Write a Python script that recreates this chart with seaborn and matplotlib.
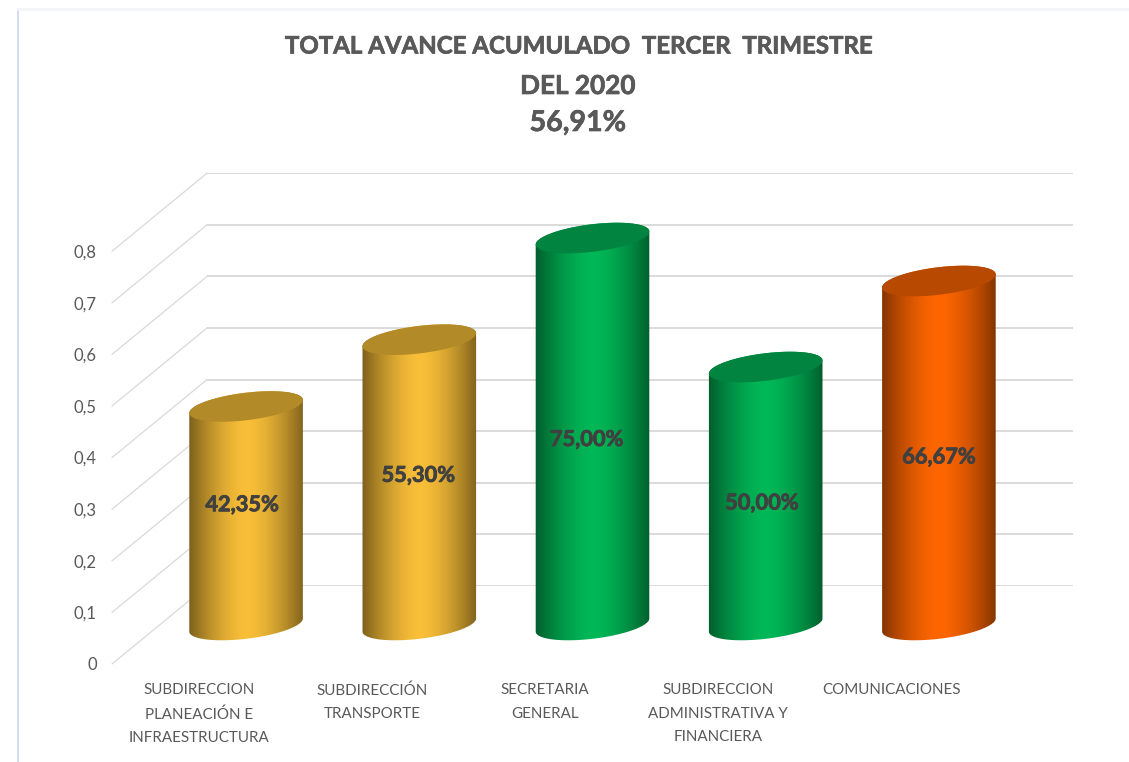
import numpy as np
import seaborn as sns
import matplotlib.pyplot as plt
import matplotlib.patheffects as pe
from matplotlib.colors import to_rgb
from matplotlib.lines import Line2D
from matplotlib.patches import Polygon

categories = ["SUBDIRECCION\nPLANEACIÓN E\nINFRAESTRUCTURA", "SUBDIRECCIÓN\nTRANSPORTE\n ",
              "SECRETARIA\nGENERAL\n ", "SUBDIRECCION\nADMINISTRATIVA Y\nFINANCIERA",
              "COMUNICACIONES\n \n "]
values = [0.4235, 0.553, 0.75, 0.50, 0.6667]
value_labels = ["42,35%", "55,30%", "75,00%", "50,00%", "66,67%"]
bar_colors = ["#F9BF38", "#F9BF38", "#00B857", "#00B857", "#FF6600"]
y_ticks = [0, 0.1, 0.2, 0.3, 0.4, 0.5, 0.6, 0.7, 0.8]
y_tick_labels = ["0", "0,1", "0,2", "0,3", "0,4", "0,5", "0,6", "0,7", "0,8"]
title_lines = ["TOTAL AVANCE ACUMULADO  TERCER  TRIMESTRE", "DEL 2020", "56,91%"]

# where the value labels sit relative to the middle of each bar, pixels
label_dx = [-4, -1, -6, -4, 0]
label_dy = [11, 7, -8, -7, -4]

W, H = 1129, 762
TEXT = "#595959"

sns.set_theme(style="white")
plt.rcParams["font.family"] = ["Lato", "DejaVu Sans"]

fig = plt.figure(figsize=(W / 100, H / 100), dpi=100)
thick = [pe.withStroke(linewidth=0.5, foreground=TEXT)]
thick_dark = [pe.withStroke(linewidth=0.6, foreground="#404040")]


def plane(left, base):
    # same size axes for back wall, bars and front labels, shifted for the fake 3D
    ax = fig.add_axes([left / W, (H - base) / H, 866 / W, 412.8 / H])
    ax.set_facecolor("none")
    ax.set_ylim(0, 0.8)
    sns.despine(ax=ax, left=True, bottom=True)
    return ax


ax_back = plane(207, 586)
ax_mid = plane(159.5, 625)
ax_front = plane(112, 664)

# back wall grid
ax_back.set_xlim(0, 1)
ax_back.set_xticks([])
ax_back.set_yticks(y_ticks)
ax_back.set_yticklabels([])
ax_back.tick_params(length=0)
ax_back.grid(axis="y", color="#DADADA", lw=1.4)
ax_back.set_axisbelow(True)

# side wall diagonals
for v in y_ticks:
    x0, y0 = ax_front.transData.transform((ax_front.get_xlim()[0], v))
    x1, y1 = ax_back.transData.transform((0, v))
    fig.add_artist(Line2D([x0, x1], [y0, y1], transform=None, color="#D9D9D9", lw=0.9, zorder=-1))

# bars
sns.barplot(x=categories, y=values, hue=categories, palette=bar_colors, width=0.664,
            legend=False, ax=ax_mid)
ax_mid.set_xticks([])
ax_mid.set_yticks([])
ax_mid.set_xlabel("")
ax_mid.set_ylabel("")

px_x = 866 / 5  # pixels for one category
px_y = 412.8 / 0.8  # pixels for one unit of value
shade = np.linspace(-1, 1, 256)
shade = 0.5 + 0.5 * (1 - np.abs(shade) ** 1.6)

# tilted ellipse of the cylinder ends, in pixels, starts at its rightmost point
t = np.linspace(0, 2 * np.pi, 240, endpoint=False)
tilt = np.radians(7)
ell_x = 57.2 * np.cos(t) * np.cos(tilt) - 13.7 * np.sin(t) * np.sin(tilt)
ell_y = 57.2 * np.cos(t) * np.sin(tilt) + 13.7 * np.sin(t) * np.cos(tilt)
first = np.argmax(ell_x)
ell_x, ell_y = np.roll(ell_x, -first), np.roll(ell_y, -first)
turn = np.argmin(ell_x)

bars = sorted([p for p in ax_mid.patches if p.get_height() > 0], key=lambda p: p.get_x())
for i, bar in enumerate(bars):
    bar.set_visible(False)
    x, w, v = bar.get_x(), bar.get_width(), bar.get_height()
    cx = x + w / 2
    base = np.array(to_rgb(bar_colors[i]))
    ex = ell_x / px_x
    ey = ell_y / px_y

    # lower half of the base, then upper half of the top
    body_x = np.r_[cx + ex[turn:], cx + ex[:turn + 1]]
    body_y = np.r_[ey[turn:], v + ey[:turn + 1]]
    body = Polygon(np.c_[body_x, body_y], closed=True, fc="none", ec="none", clip_on=False)
    ax_mid.add_patch(body)

    grad = shade[None, :, None] * base[None, None, :]
    im = ax_mid.imshow(grad, extent=(x, x + w, -0.1, v + 0.1), aspect="auto", zorder=3,
                       interpolation="bilinear")
    im.set_clip_path(body)
    im.set_clip_box(fig.bbox)

    ax_mid.add_patch(Polygon(np.c_[cx + ex, v + ey], closed=True, fc=base * 0.72, ec="none",
                             zorder=4, clip_on=False))

    ax_mid.annotate(value_labels[i], (cx, v / 2), xytext=(label_dx[i], label_dy[i]),
                    textcoords="offset pixels", ha="center", va="center", fontsize=15.7,
                    fontweight="bold", color="#404040", zorder=5, annotation_clip=False,
                    path_effects=thick_dark)
ax_mid.set_xlim(-0.5, 4.5)
ax_mid.set_ylim(0, 0.8)

# front axis carries the tick labels
ax_front.set_xlim(-0.5, 4.5)
ax_front.set_xticks(range(len(categories)))
ax_front.set_xticklabels(categories, fontsize=10.9, color=TEXT, linespacing=1.86)
ax_front.set_yticks(y_ticks)
ax_front.set_yticklabels(y_tick_labels, fontsize=12, color=TEXT)
ax_front.tick_params(axis="y", length=0, pad=11)
ax_front.tick_params(axis="x", length=0, pad=14)
ax_front.grid(False)

# title
for line, ypos, size in zip(title_lines, [46, 86, 123], [17.3, 18.8, 20.6]):
    fig.text(578 / W, 1 - ypos / H, line, ha="center", va="center", fontsize=size,
             fontweight="bold", color=TEXT, path_effects=thick)

# faint frame of the original slide
fig.add_artist(Line2D([18 / W, 18 / W], [0, 1 - 9 / H], color="#C9D8EC", lw=1.2))
fig.add_artist(Line2D([18 / W, 1], [1 - 9 / H, 1 - 9 / H], color="#F3F5F9", lw=2.2))

fig.savefig("out.png", dpi=100)
